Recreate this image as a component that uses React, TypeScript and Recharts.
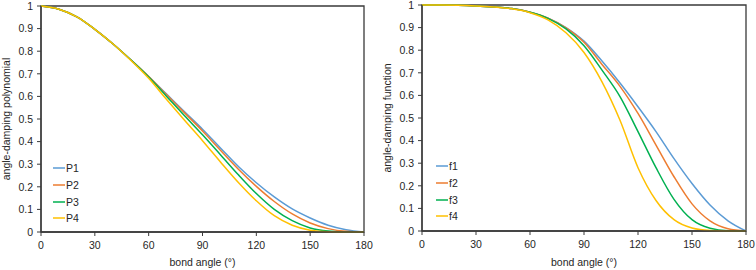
import { LineChart, Line, XAxis, YAxis, Legend, ReferenceArea } from 'recharts'

// bond angle (degrees), shared by both panels
const angles = [0, 10, 20, 30, 40, 50, 60, 70, 80, 90, 100, 110, 120, 130, 140, 150, 160, 170, 180]

// left panel: angle-damping polynomials
const p1 = [1, 0.986, 0.952, 0.897, 0.833, 0.762, 0.688, 0.61, 0.532, 0.455, 0.372, 0.29, 0.218, 0.155, 0.102, 0.062, 0.03, 0.01, 0]
const p2 = [1, 0.986, 0.952, 0.897, 0.833, 0.762, 0.688, 0.607, 0.527, 0.447, 0.362, 0.278, 0.202, 0.135, 0.08, 0.04, 0.015, 0.003, 0]
const p3 = [1, 0.986, 0.952, 0.897, 0.833, 0.762, 0.686, 0.6, 0.514, 0.43, 0.342, 0.253, 0.17, 0.1, 0.05, 0.018, 0.004, 0, 0]
const p4 = [1, 0.986, 0.952, 0.897, 0.833, 0.76, 0.68, 0.586, 0.494, 0.404, 0.31, 0.219, 0.138, 0.072, 0.03, 0.008, 0.001, 0, 0]

// right panel: angle-damping functions
const f1 = [1, 1, 0.999, 0.996, 0.991, 0.984, 0.968, 0.942, 0.9, 0.84, 0.752, 0.655, 0.55, 0.44, 0.32, 0.21, 0.115, 0.045, 0]
const f2 = [1, 1, 0.999, 0.996, 0.991, 0.984, 0.968, 0.942, 0.899, 0.835, 0.737, 0.64, 0.52, 0.38, 0.24, 0.12, 0.045, 0.01, 0]
const f3 = [1, 1, 0.999, 0.996, 0.991, 0.984, 0.968, 0.941, 0.894, 0.82, 0.712, 0.595, 0.44, 0.28, 0.14, 0.05, 0.012, 0.001, 0]
const f4 = [1, 1, 0.999, 0.996, 0.991, 0.983, 0.966, 0.934, 0.877, 0.79, 0.66, 0.49, 0.28, 0.135, 0.05, 0.013, 0.002, 0, 0]

const xTicks = [0, 30, 60, 90, 120, 150, 180]
const yTicks = [0, 0.1, 0.2, 0.3, 0.4, 0.5, 0.6, 0.7, 0.8, 0.9, 1]

const colors = ['#5B9BD5', '#ED7D31', '#00B050', '#FFC000']
const font = '"Liberation Sans", Arial, sans-serif'
const ink = '#262626'
const frame = '#3a3a3a'

const leftData = angles.map((a, i) => ({ angle: a, P1: p1[i], P2: p2[i], P3: p3[i], P4: p4[i] }))
const rightData = angles.map((a, i) => ({ angle: a, f1: f1[i], f2: f2[i], f3: f3[i], f4: f4[i] }))

function LegendBox({ payload }: { payload?: Array<{ value: string; color: string }> }) {
  if (!payload) return null
  return (
    <div style={{ fontFamily: font, fontSize: 10.5, color: ink }}>
      {payload.map(p => (
        <div key={p.value} style={{ display: 'flex', alignItems: 'center', height: 16.7 }}>
          <svg width={12} height={4} style={{ display: 'block' }}>
            <line x1={0} y1={2} x2={12} y2={2} stroke={p.color} strokeWidth={1.5} />
          </svg>
          <span style={{ marginLeft: 1 }}>{p.value}</span>
        </div>
      ))}
    </div>
  )
}

interface PanelProps {
  data: Array<Record<string, number>>
  keys: string[]
  yLabel: string
  yAxisWidth: number
  marginTop: number
  marginRight: number
  xAxisHeight: number
  yLabelOffset: number
  legendLeft: number
  legendTop: number
}

function Panel(props: PanelProps) {
  const tick = { fontSize: 10.5, fill: ink, fontFamily: font }
  return (
    <LineChart
      width={378}
      height={270}
      data={props.data}
      margin={{ top: props.marginTop, right: props.marginRight, left: 0, bottom: 0 }}
    >
      <XAxis
        type="number"
        dataKey="angle"
        domain={[0, 180]}
        ticks={xTicks}
        tick={tick}
        tickSize={4}
        tickMargin={6}
        height={props.xAxisHeight}
        axisLine={{ stroke: frame, strokeWidth: 1.3 }}
        tickLine={{ stroke: frame }}
        label={{ value: 'bond angle (°)', position: 'insideBottom', offset: 4, style: { fontSize: 10.5, fill: ink, fontFamily: font } }}
      />
      <YAxis
        type="number"
        domain={[0, 1]}
        ticks={yTicks}
        tick={tick}
        tickSize={4}
        tickMargin={4}
        width={props.yAxisWidth}
        axisLine={{ stroke: frame, strokeWidth: 1.3 }}
        tickLine={{ stroke: frame }}
        label={{
          value: props.yLabel,
          angle: -90,
          position: 'insideLeft',
          offset: props.yLabelOffset,
          style: { textAnchor: 'middle', fontSize: 10.5, fill: ink, fontFamily: font },
        }}
      />
      <ReferenceArea x1={0} x2={180} y1={0} y2={1} fill="none" stroke={frame} strokeWidth={1.3} />
      <Legend
        layout="vertical"
        align="center"
        verticalAlign="middle"
        wrapperStyle={{ left: props.legendLeft, top: props.legendTop, width: 40 }}
        content={(p: any) => <LegendBox payload={p.payload} />}
      />
      {props.keys.map((k, i) => (
        <Line
          key={k}
          type="monotone"
          dataKey={k}
          name={k}
          stroke={colors[i]}
          strokeWidth={1.5}
          dot={false}
          activeDot={false}
          isAnimationActive={false}
        />
      ))}
    </LineChart>
  )
}

export default function App() {
  return (
    <div style={{ position: 'absolute', left: 0, top: 0, width: 756, height: 270, background: '#fff' }}>
      <div style={{ position: 'absolute', left: 0, top: 0 }}>
        <Panel
          data={leftData}
          keys={['P1', 'P2', 'P3', 'P4']}
          yLabel="angle-damping polynomial"
          yAxisWidth={41}
          marginTop={6}
          marginRight={14}
          xAxisHeight={38}
          yLabelOffset={6}
          legendLeft={53}
          legendTop={160}
        />
      </div>
      <div style={{ position: 'absolute', left: 378, top: 0 }}>
        <Panel
          data={rightData}
          keys={['f1', 'f2', 'f3', 'f4']}
          yLabel="angle-damping function"
          yAxisWidth={44}
          marginTop={5}
          marginRight={10}
          xAxisHeight={39}
          yLabelOffset={9}
          legendLeft={58}
          legendTop={158}
        />
      </div>
    </div>
  )
}
